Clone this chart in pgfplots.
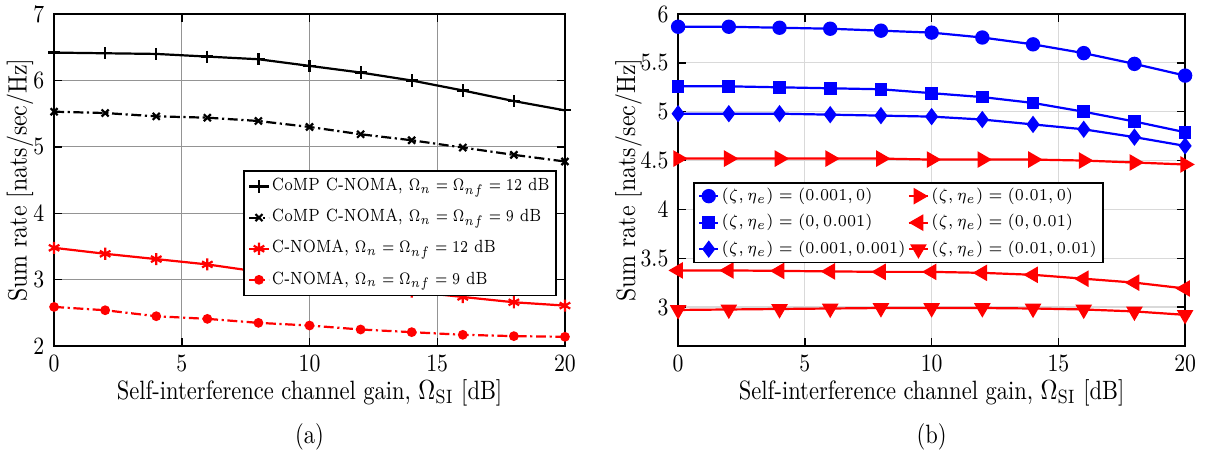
\documentclass[border=0pt]{standalone}
\usepackage{graphicx}
\usepackage{pgfplots}
\usepackage{pgfplotstable}
\pgfplotsset{compat=1.18}
\pgfplotstableread{
x a1 a2 a3 a4
0 6.42 5.53 3.48 2.59
2 6.41 5.51 3.39 2.54
4 6.40 5.46 3.31 2.45
6 6.36 5.44 3.23 2.41
8 6.32 5.39 3.12 2.35
10 6.22 5.30 3.04 2.31
12 6.12 5.19 2.90 2.25
14 6.00 5.10 2.82 2.21
16 5.85 4.99 2.74 2.17
18 5.69 4.88 2.66 2.15
20 5.55 4.78 2.61 2.14
}\tabA
\pgfplotstableread{
x b1 b2 b3 b4 b5 b6
0 5.87 5.26 4.98 4.52 3.375 2.97
2 5.87 5.26 4.98 4.52 3.375 2.975
4 5.86 5.25 4.98 4.52 3.37 2.98
6 5.85 5.24 4.97 4.52 3.365 2.985
8 5.83 5.23 4.96 4.52 3.36 2.99
10 5.81 5.19 4.95 4.51 3.36 2.99
12 5.76 5.15 4.92 4.51 3.35 2.99
14 5.69 5.09 4.87 4.51 3.33 2.985
16 5.60 5.00 4.82 4.50 3.29 2.975
18 5.49 4.90 4.74 4.48 3.25 2.955
20 5.37 4.79 4.65 4.46 3.19 2.92
}\tabB
\definecolor{mred}{rgb}{1,0,0}
\definecolor{mblue}{rgb}{0,0,1}
\newcommand{\sq}[1]{\scalebox{0.85}[1]{#1}}
\newcommand{\lgs}[1]{\scalebox{0.8}[1]{#1}}
\newcommand{\lgb}[1]{\scalebox{0.9}[1]{#1}}
\begin{document}
\begin{tikzpicture}
\useasboundingbox (-19.6pt,-40.2pt) rectangle (417pt,125.4pt);
\pgfplotsset{
  myax/.style={
    scale only axis, height=120.3pt,
    xmin=0, xmax=20, xtick={0,5,...,20},
    grid=major,
    tick align=inside, axis line style={line width=0.6pt},
    major tick length=3pt,
    every tick/.style={line width=0.5pt, black},
    tick label style={font=\fontsize{8.7}{10}\selectfont},
    xticklabel={\sq{$\pgfmathprintnumber{\tick}$}},
    yticklabel={\sq{$\pgfmathprintnumber{\tick}$}},
    label style={font=\fontsize{9.6}{11}\selectfont},
    xlabel={\sq{Self-interference channel gain, $\Omega_{\mathrm{SI}}$ [dB]}},
    ylabel={\scalebox{0.9}[1]{Sum rate [nats/sec/Hz]}},
    xlabel style={at={(axis description cs:0.5,-0.141)}, anchor=center},
    clip=false,
    legend cell align=left,
    legend style={font=\fontsize{6.4}{7.5}\selectfont, draw=black, line width=0.6pt, inner xsep=1.5pt, inner ysep=0pt},
    legend image code/.code={\draw[mark repeat=2,mark phase=2] plot coordinates {(0pt,0pt) (3.5pt,0pt) (7pt,0pt)};},
  }
}
\begin{axis}[myax, width=185.1pt,
  ymin=2, ymax=7, ytick={2,3,...,7},
  grid style={line width=0.4pt, draw=black!42},
  ylabel style={at={(axis description cs:-0.0665,0.5)}, anchor=center},
  legend style={at={(axis description cs:0.984,0.53)}, anchor=north east, nodes={inner ysep=2.6pt, inner xsep=0.8pt}},
]
\addplot[black, line width=0.8pt, mark=+, mark size=2.2pt, mark options={solid, line width=0.8pt}] table[x=x,y=a1]{\tabA};
\addlegendentry{\lgs{CoMP C-NOMA, $\Omega_n=\Omega_{nf}=12$ dB}}
\addplot[black, line width=0.8pt, dash pattern=on 3.6pt off 1.3pt on 0.8pt off 1.3pt, mark=x, mark size=1.8pt, mark options={solid, line width=0.8pt}] table[x=x,y=a2]{\tabA};
\addlegendentry{\lgs{CoMP C-NOMA, $\Omega_n=\Omega_{nf}=9$ dB}}
\addplot[mred, line width=0.8pt, mark=asterisk, mark size=2.2pt, mark options={solid, line width=0.8pt}] table[x=x,y=a3]{\tabA};
\addlegendentry{\lgs{C-NOMA, $\Omega_n=\Omega_{nf}=12$ dB}}
\addplot[mred, line width=0.8pt, dash pattern=on 3.6pt off 1.3pt on 0.8pt off 1.3pt, mark=*, mark size=1.35pt, mark options={solid}] table[x=x,y=a4]{\tabA};
\addlegendentry{\lgs{C-NOMA, $\Omega_n=\Omega_{nf}=9$ dB}}
\node at (axis description cs:0.5,-0.274) {\fontsize{9.6}{11}\selectfont\sq{(a)}};
\end{axis}
\begin{axis}[myax, width=183.7pt, at={(226.1pt,0pt)},
  ymin=2.6, ymax=6, ytick={3,3.5,...,6},
  grid style={line width=0.4pt, draw=black!15},
  ylabel style={at={(axis description cs:-0.098,0.5)}, anchor=center},
  legend columns=2,
  legend style={at={(axis description cs:0.0294,0.494)}, anchor=north west, nodes={inner ysep=1.8pt, inner xsep=0.8pt}},
]
\addplot[mblue, line width=0.8pt, mark=*, mark size=2.2pt] table[x=x,y=b1]{\tabB};
\addlegendentry{\lgb{$(\zeta,\eta_e)=(0.001,0)$}}
\addplot[mred, line width=0.8pt, mark=triangle*, mark size=2.7pt, mark options={rotate=-90}] table[x=x,y=b4]{\tabB};
\addlegendentry{\lgb{$(\zeta,\eta_e)=(0.01,0)$}}
\addplot[mblue, line width=0.8pt, mark=square*, mark size=1.9pt] table[x=x,y=b2]{\tabB};
\addlegendentry{\lgb{$(\zeta,\eta_e)=(0,0.001)$}}
\addplot[mred, line width=0.8pt, mark=triangle*, mark size=2.7pt, mark options={rotate=90}] table[x=x,y=b5]{\tabB};
\addlegendentry{\lgb{$(\zeta,\eta_e)=(0,0.01)$}}
\addplot[mblue, line width=0.8pt, mark=diamond*, mark size=2.5pt] table[x=x,y=b3]{\tabB};
\addlegendentry{\lgb{$(\zeta,\eta_e)=(0.001,0.001)$}}
\addplot[mred, line width=0.8pt, mark=triangle*, mark size=2.7pt, mark options={rotate=180}] table[x=x,y=b6]{\tabB};
\addlegendentry{\lgb{$(\zeta,\eta_e)=(0.01,0.01)$}}
\node at (axis description cs:0.5,-0.274) {\fontsize{9.6}{11}\selectfont\sq{(b)}};
\end{axis}
\end{tikzpicture}
\end{document}
